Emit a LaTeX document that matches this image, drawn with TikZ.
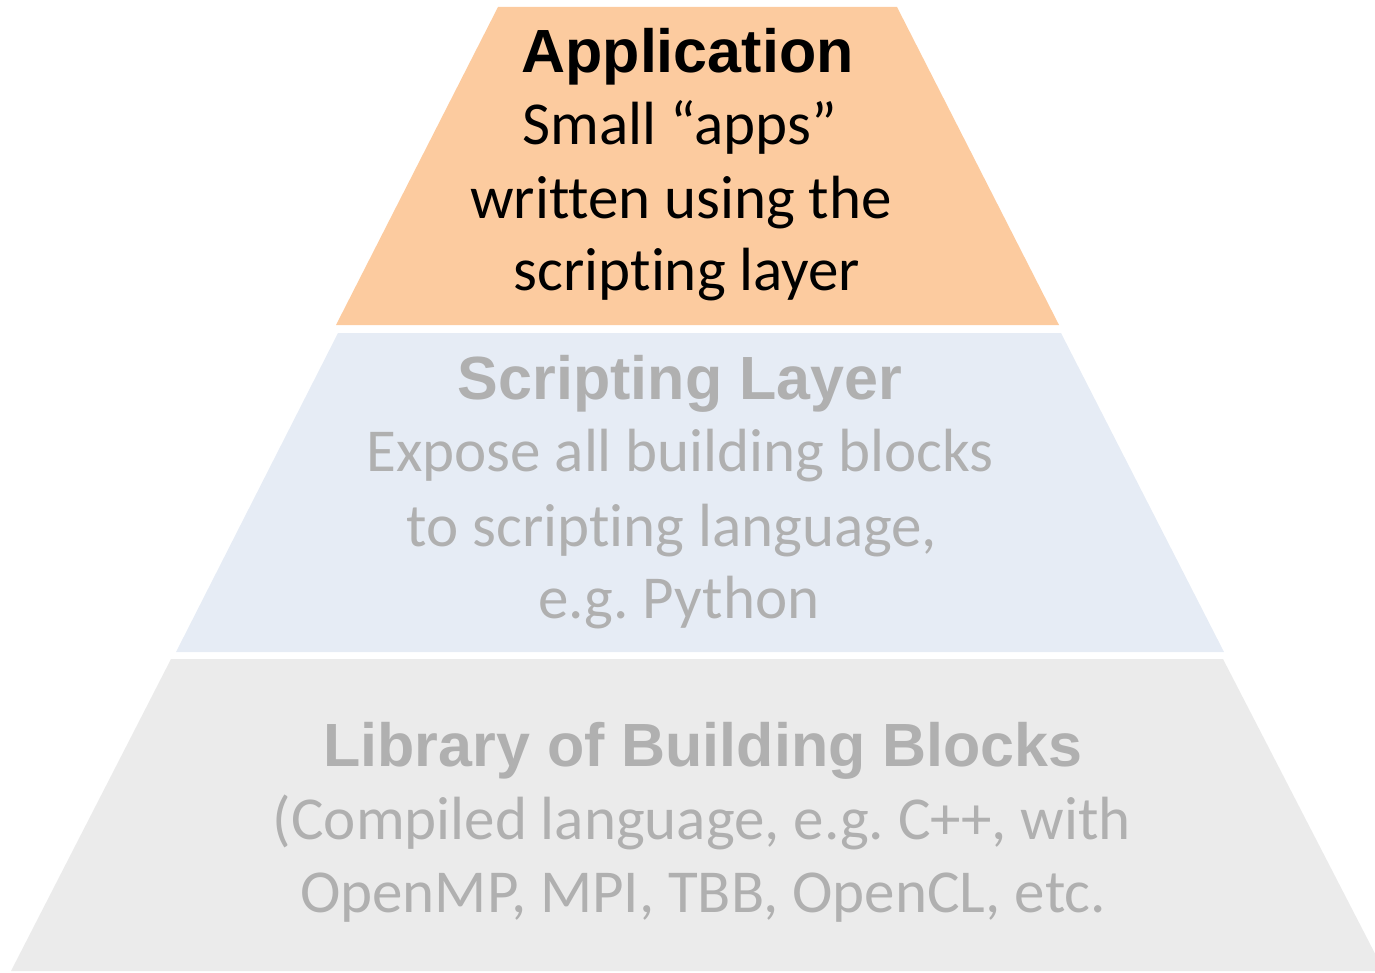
\documentclass[tikz,border=0pt]{standalone}
\usepackage{fontspec}
\setmainfont{Carlito}[Ligatures={NoCommon}]
\newfontfamily\headfont{Liberation Sans}
\frenchspacing
\definecolor{apporange}{HTML}{FCCB9F}
\definecolor{scriptblue}{HTML}{E6ECF5}
\definecolor{libgray}{HTML}{EBEBEB}
\definecolor{fadetext}{HTML}{B0B0B0}
\tikzset{
  headtxt/.style={anchor=base, inner sep=0pt, font=\headfont\bfseries\fontsize{30.5}{36}\selectfont},
  bodytxt/.style={anchor=base, inner sep=0pt, font=\fontsize{30.5}{36}\selectfont},
}
\begin{document}
\begin{tikzpicture}[x=0.5pt,y=-0.5pt]
\useasboundingbox (0,0) rectangle (1375,973);
% layers
\fill[apporange] (498,7) -- (897,7) -- (1059,325) -- (336,325) -- cycle;
\fill[scriptblue] (338,333) -- (1061,333) -- (1224,652) -- (176,652) -- cycle;
\fill[libgray] (171,659) -- (1223,659) -- (1384,971) -- (11,971) -- cycle;
% application
\node[headtxt, text=black] (apph) at (687.5,73) {Application};
\node[bodytxt, text=black] (app1) at (680,145) {Small “apps”};
\node[bodytxt, text=black] (app2) at (681,219) {written using the};
\node[bodytxt, text=black] (app3) at (687,291) {scripting layer};
% scripting
\node[headtxt, text=fadetext] (scrh) at (680,399) {Scripting Layer};
\node[bodytxt, text=fadetext] (scr1) at (680,471) {Expose all building blocks};
\node[bodytxt, text=fadetext] (scr2) at (672,546) {to scripting language,};
\node[bodytxt, text=fadetext] (scr3) at (679,618) {e.g. Python};
% library
\node[headtxt, text=fadetext] (libh) at (703,766) {Library of Building Blocks};
\node[bodytxt, text=fadetext] (lib1) at (702,839) {(Compiled language, e.g. C++, with};
\node[bodytxt, text=fadetext] (lib2) at (703,912) {OpenMP, MPI, TBB, OpenCL, etc.};
\end{tikzpicture}
\end{document}
